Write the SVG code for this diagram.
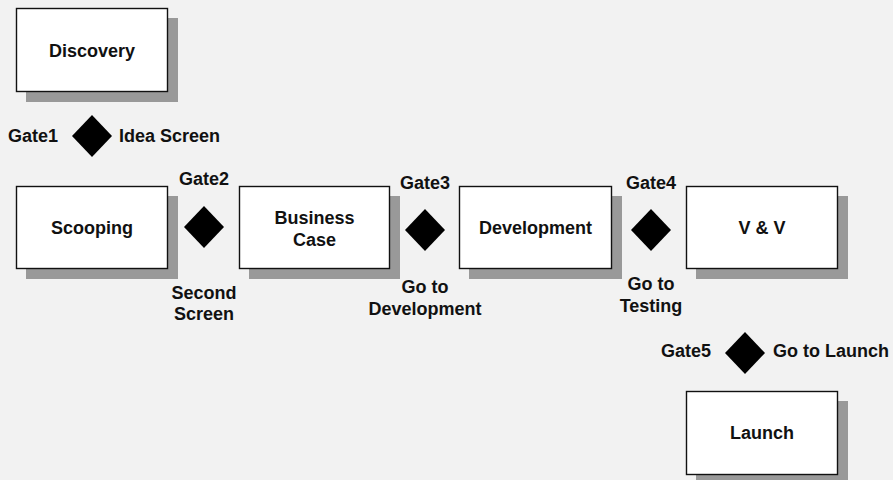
<svg xmlns="http://www.w3.org/2000/svg" width="893" height="480" viewBox="0 0 893 480">
  <style>
    .bg { fill: #f2f2f2; }
    .shadow { fill: #999999; }
    .box { fill: #ffffff; stroke: #111111; stroke-width: 1.4; }
    .gate { fill: #000000; }
    text { font-family: "Liberation Sans", Arial, sans-serif; font-weight: bold; font-size: 18px; fill: #111111; }
    .c { text-anchor: middle; }
    .e { text-anchor: end; }
  </style>
  <defs>
    <polygon id="diamond" points="0,-21 20,0 0,21 -20,0"/>
  </defs>
  <rect class="bg" x="0" y="0" width="893" height="480"/>

  <!-- stage boxes -->
  <g id="discovery">
    <rect class="shadow" x="26" y="18" width="152" height="84"/>
    <rect class="box" x="16.5" y="8.5" width="151" height="83"/>
    <text class="c" x="92" y="57">Discovery</text>
  </g>
  <g id="scooping">
    <rect class="shadow" x="26" y="196" width="152" height="83"/>
    <rect class="box" x="16.5" y="186.5" width="151" height="82"/>
    <text class="c" x="92" y="234">Scooping</text>
  </g>
  <g id="business-case">
    <rect class="shadow" x="249" y="196" width="151" height="83"/>
    <rect class="box" x="239.5" y="186.5" width="150" height="82"/>
    <text class="c" x="314.5" y="224">Business</text>
    <text class="c" x="314.5" y="246">Case</text>
  </g>
  <g id="development">
    <rect class="shadow" x="469" y="196" width="153" height="83"/>
    <rect class="box" x="459.5" y="186.5" width="152" height="82"/>
    <text class="c" x="535.5" y="234">Development</text>
  </g>
  <g id="v-and-v">
    <rect class="shadow" x="696" y="196" width="152" height="83"/>
    <rect class="box" x="686.5" y="186.5" width="151" height="82"/>
    <text class="c" x="762" y="234">V &amp; V</text>
  </g>
  <g id="launch">
    <rect class="shadow" x="696" y="401" width="152" height="84"/>
    <rect class="box" x="686.5" y="391.5" width="151" height="83"/>
    <text class="c" x="762" y="439">Launch</text>
  </g>

  <!-- gates -->
  <g id="gate1">
    <use href="#diamond" class="gate" x="92" y="136"/>
    <text class="e" x="58" y="142">Gate1</text>
    <text x="119" y="142">Idea Screen</text>
  </g>
  <g id="gate2">
    <use href="#diamond" class="gate" x="204" y="227"/>
    <text class="c" x="204" y="185">Gate2</text>
    <text class="c" x="204" y="299">Second</text>
    <text class="c" x="204" y="320">Screen</text>
  </g>
  <g id="gate3">
    <use href="#diamond" class="gate" x="425" y="230"/>
    <text class="c" x="425" y="189">Gate3</text>
    <text class="c" x="425" y="293">Go to</text>
    <text class="c" x="425" y="315">Development</text>
  </g>
  <g id="gate4">
    <use href="#diamond" class="gate" x="651" y="230"/>
    <text class="c" x="651" y="189">Gate4</text>
    <text class="c" x="651" y="290">Go to</text>
    <text class="c" x="651" y="312">Testing</text>
  </g>
  <g id="gate5">
    <use href="#diamond" class="gate" x="745" y="353"/>
    <text class="e" x="711" y="357">Gate5</text>
    <text x="773" y="357">Go to Launch</text>
  </g>

  <!-- the stages are placed side by side; no connector lines are drawn -->
  <g id="connectors"/>
</svg>
